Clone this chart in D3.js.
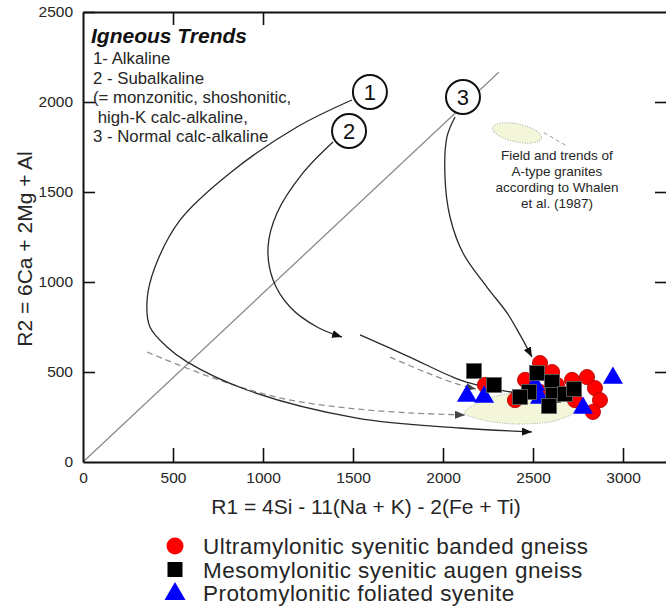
<!DOCTYPE html>
<html>
<head>
<meta charset="utf-8">
<script src="https://cdn.jsdelivr.net/npm/d3@7"></script>
<style>
  html, body { margin: 0; padding: 0; background: #fff; }
  svg { display: block; font-family: "Liberation Sans", Arial, sans-serif; }
</style>
</head>
<body>
<svg id="chart" width="666" height="610"></svg>
<script>
// R1-R2 multicationic diagram (De la Roche et al.) with igneous trends

// Samples: [R1, R2]
const ultramylonitic = [
  [2539, 550], [2606, 500], [2456, 456], [2633, 428], [2400, 344],
  [2717, 456], [2800, 472], [2844, 411], [2872, 344], [2833, 278],
  [2233, 428], [2539, 389], [2733, 344]
];
const mesomylonitic = [
  [2172, 506], [2283, 428], [2522, 494], [2606, 444], [2478, 389],
  [2428, 361], [2611, 372], [2678, 378], [2728, 406], [2589, 311]
];
const protomylonitic = [
  [2133, 367], [2228, 361], [2944, 467], [2778, 300], [2511, 428], [2539, 356]
];

const seriesNames = [
  "Ultramylonitic syenitic banded gneiss",
  "Mesomylonitic syenitic augen gneiss",
  "Protomylonitic foliated syenite"
];

// Axis ticks
const xTicks = [0, 500, 1000, 1500, 2000, 2500, 3000];
const yTicks = [0, 500, 1000, 1500, 2000, 2500];
const topTicks = [500, 1000];
const rightTicks = [500, 1000, 1500, 2000];

// Trend paths in R1-R2 space
const trend1 = [
  [1494, 2011], [1189, 1861], [817, 1606], [539, 1344], [400, 1083],
  [356, 900], [372, 750], [467, 639], [578, 556], [911, 400],
  [1522, 244], [2094, 189], [2494, 167]
];
const trend2a = [
  [1389, 1778], [1222, 1606], [1078, 1383], [1028, 1194], [1056, 1011],
  [1150, 861], [1300, 750], [1439, 694]
];
const trend2b = [
  [1539, 706], [1800, 590], [2094, 456], [2261, 411], [2483, 372]
];
const trend3 = [
  [2067, 1917], [2022, 1806], [2011, 1583], [2039, 1361], [2111, 1161],
  [2244, 972], [2356, 828], [2428, 706], [2494, 583]
];
const aTypeTrendA = [
  [356, 611], [722, 467], [1094, 356], [1467, 300], [1833, 272], [2122, 261]
];
const aTypeTrendB = [
  [1706, 583], [1900, 500], [2094, 428], [2183, 406]
];
const aTypeField = [
  [2117, 272], [2206, 333], [2344, 378], [2511, 389], [2661, 378],
  [2744, 333], [2717, 267], [2594, 222], [2411, 211], [2244, 228]
];
const diagonal = [[0, 0], [2310, 2165]];
const trendLabels = [
  { n: "1", at: [1594, 2056] },
  { n: "2", at: [1478, 1839] },
  { n: "3", at: [2111, 2028] }
];
const trendLegend = [
  "1- Alkaline",
  "2 - Subalkaline",
  "(= monzonitic, shoshonitic,",
  " high-K calc-alkaline,",
  "3 - Normal calc-alkaline"
];
const fieldNote = [
  "Field and trends of",
  "A-type granites",
  "according to Whalen",
  "et al. (1987)"
];

const svg = d3.select("#chart");

const x = d3.scaleLinear().domain([0, 3250]).range([83, 668]);
const y = d3.scaleLinear().domain([0, 2500]).range([462, 12]);

const textColor = "#262626";

// Arrow heads
const defs = svg.append("defs");
function arrow(id, color) {
  defs.append("marker")
    .attr("id", id)
    .attr("viewBox", "0 0 10 8")
    .attr("refX", 10).attr("refY", 4)
    .attr("markerWidth", 10).attr("markerHeight", 8)
    .attr("markerUnits", "userSpaceOnUse")
    .attr("orient", "auto")
    .append("path")
    .attr("d", "M0,0 L10,4 L0,8 Z")
    .attr("fill", color);
}
arrow("arrDark", "#111");
arrow("arrGrey", "#444");

const line = d3.line().x(d => x(d[0])).y(d => y(d[1])).curve(d3.curveCatmullRom.alpha(0.5));

// Diagonal reference line
svg.append("line")
  .attr("x1", x(diagonal[0][0])).attr("y1", y(diagonal[0][1]))
  .attr("x2", x(diagonal[1][0])).attr("y2", y(diagonal[1][1]))
  .attr("stroke", "#8a8a8a").attr("stroke-width", 1.3);

// A-type granite field
svg.append("path")
  .attr("d", d3.line().x(d => x(d[0])).y(d => y(d[1])).curve(d3.curveCardinalClosed.tension(0.2))(aTypeField))
  .attr("fill", "#f3f6d8")
  .attr("stroke", "#aaa").attr("stroke-width", 1)
  .attr("stroke-dasharray", "1,1.5");

// A-type trends (dashed)
[aTypeTrendA, aTypeTrendB].forEach(t => {
  svg.append("path")
    .attr("d", line(t))
    .attr("fill", "none")
    .attr("stroke", "#8e8e8e").attr("stroke-width", 1.3)
    .attr("stroke-dasharray", "6,4")
    .attr("marker-end", "url(#arrGrey)");
});

// Igneous trends (solid)
svg.append("path").attr("d", line(trend1)).attr("fill", "none")
  .attr("stroke", "#2a2a2a").attr("stroke-width", 1.3).attr("marker-end", "url(#arrDark)");
svg.append("path").attr("d", line(trend2a)).attr("fill", "none")
  .attr("stroke", "#2a2a2a").attr("stroke-width", 1.3).attr("marker-end", "url(#arrDark)");
svg.append("path").attr("d", line(trend2b)).attr("fill", "none")
  .attr("stroke", "#2a2a2a").attr("stroke-width", 1.3);
svg.append("path").attr("d", line(trend3)).attr("fill", "none")
  .attr("stroke", "#2a2a2a").attr("stroke-width", 1.3).attr("marker-end", "url(#arrDark)");

// Numbered trend labels
const tl = svg.append("g").selectAll("g").data(trendLabels).join("g")
  .attr("transform", d => `translate(${x(d.at[0])},${y(d.at[1])})`);
tl.append("circle").attr("r", 17).attr("fill", "#fff")
  .attr("stroke", "#111").attr("stroke-width", 2);
tl.append("text").text(d => d.n)
  .attr("text-anchor", "middle").attr("dy", "0.36em")
  .attr("font-size", 22).attr("fill", "#111");

// Field legend swatch and note
const fieldIcon = svg.append("g")
  .attr("transform", `translate(${x(2411)},${y(1828)}) rotate(12)`);
fieldIcon.append("ellipse").attr("rx", 25).attr("ry", 9)
  .attr("fill", "#f3f6d8").attr("stroke", "#aaa").attr("stroke-width", 1)
  .attr("stroke-dasharray", "1,1.5");
svg.append("line")
  .attr("x1", x(2560)).attr("y1", y(1830))
  .attr("x2", x(2680)).attr("y2", y(1760))
  .attr("stroke", "#999").attr("stroke-width", 1).attr("stroke-dasharray", "4,3");
svg.append("g").selectAll("text").data(fieldNote).join("text")
  .attr("x", x(2633)).attr("y", (d, i) => 160 + i * 16)
  .attr("text-anchor", "middle").attr("font-size", 13.5).attr("fill", textColor)
  .text(d => d);

// Samples
const gPts = svg.append("g");
gPts.selectAll("circle").data(ultramylonitic).join("circle")
  .attr("cx", d => x(d[0])).attr("cy", d => y(d[1])).attr("r", 7.6)
  .attr("fill", "#ff0000").attr("stroke", "#b00000").attr("stroke-width", 0.8);
const tri = (cx, cy, w) => {
  const h = w * Math.sqrt(3) / 2;
  return `M${cx},${cy - 2 * h / 3} L${cx + w / 2},${cy + h / 3} L${cx - w / 2},${cy + h / 3} Z`;
};
gPts.selectAll("path.tri").data(protomylonitic).join("path").attr("class", "tri")
  .attr("d", d => tri(x(d[0]), y(d[1]), 20))
  .attr("fill", "#0000ff");
gPts.selectAll("rect").data(mesomylonitic).join("rect")
  .attr("x", d => x(d[0]) - 7.5).attr("y", d => y(d[1]) - 7.5)
  .attr("width", 15).attr("height", 15)
  .attr("fill", "#000").attr("stroke", "#666").attr("stroke-width", 0.8);

// Axes
const tickFont = g => g.selectAll("text")
  .attr("font-family", "'Liberation Sans', Arial, sans-serif")
  .attr("font-size", 15.5).attr("fill", textColor);

const xAxis = svg.append("g").attr("transform", `translate(0,${y(0)})`)
  .call(d3.axisBottom(x).tickValues(xTicks).tickFormat(d3.format("d"))
    .tickSizeInner(-14).tickSizeOuter(0).tickPadding(10));
xAxis.call(tickFont);

const yAxis = svg.append("g").attr("transform", `translate(${x(0)},0)`)
  .call(d3.axisLeft(y).tickValues(yTicks).tickFormat(d3.format("d"))
    .tickSizeInner(-12).tickSizeOuter(0).tickPadding(10));
yAxis.call(tickFont);

const topAxis = svg.append("g").attr("transform", `translate(0,${y(2500)})`)
  .call(d3.axisTop(x).tickValues(topTicks).tickFormat("")
    .tickSizeInner(-13).tickSizeOuter(0));
const rightAxis = svg.append("g").attr("transform", `translate(${x(3250)},0)`)
  .call(d3.axisRight(y).tickValues(rightTicks).tickFormat("")
    .tickSizeInner(-13).tickSizeOuter(0));

[xAxis, yAxis, topAxis, rightAxis].forEach(a => {
  a.selectAll(".domain").attr("stroke", "#111").attr("stroke-width", 2);
  a.selectAll(".tick line").attr("stroke", "#111").attr("stroke-width", 1.6);
});
xAxis.select(".tick").select("line").remove();
yAxis.select(".tick").select("line").remove();

// Axis titles
svg.append("text")
  .attr("x", 366).attr("y", 514)
  .attr("text-anchor", "middle").attr("font-size", 21).attr("fill", textColor)
  .text("R1 = 4Si - 11(Na + K) - 2(Fe + Ti)");
svg.append("text")
  .attr("transform", "translate(32,249) rotate(-90)")
  .attr("text-anchor", "middle").attr("font-size", 21).attr("fill", textColor)
  .text("R2 = 6Ca + 2Mg + Al");

// Trend legend block
svg.append("text")
  .attr("x", 91).attr("y", 43)
  .attr("font-size", 21).attr("font-weight", "bold").attr("font-style", "italic")
  .attr("fill", "#111")
  .text("Igneous Trends");
svg.append("g").selectAll("text").data(trendLegend).join("text")
  .attr("x", 93).attr("y", (d, i) => 64 + i * 19.5)
  .attr("font-size", 16.8).attr("fill", textColor)
  .attr("xml:space", "preserve").style("white-space", "pre")
  .text(d => d);

// Sample legend
const legendY = [546, 569.5, 593];
const lg = svg.append("g");
lg.append("circle").attr("cx", 175).attr("cy", legendY[0]).attr("r", 8.5).attr("fill", "#ff0000");
lg.append("rect").attr("x", 167.5).attr("y", legendY[1] - 7.5).attr("width", 15).attr("height", 15).attr("fill", "#000");
lg.append("path").attr("d", tri(175, legendY[2] + 1, 21)).attr("fill", "#0000ff");
lg.selectAll("text").data(seriesNames).join("text")
  .attr("x", 203).attr("y", (d, i) => legendY[i] + 8)
  .attr("font-size", 22.5).attr("letter-spacing", 0.45).attr("fill", textColor)
  .text(d => d);
</script>
</body>
</html>
